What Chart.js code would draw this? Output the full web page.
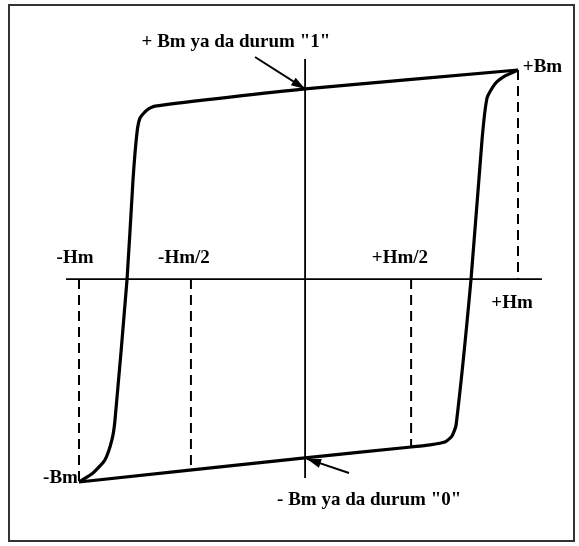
<!DOCTYPE html>
<html>
<head>
<meta charset="utf-8">
<script src="https://cdn.jsdelivr.net/npm/chart.js@4/dist/chart.umd.min.js"></script>
<style>
    body { margin: 0; background: #fff; }
    #wrap { position: relative; width: 579px; height: 546px; }
    #frame { position: absolute; left: 8px; top: 4px; width: 563px; height: 534px; border: 2px solid #333; pointer-events: none; }
</style>
</head>
<body>
<div id="wrap">
    <canvas id="loop" width="579" height="546"></canvas>
    <div id="frame"></div>
</div>
<script>
// histerezis egrisi, H = -Hm..+Hm, B = -Bm..+Bm (normalize)
const descH = [1.0, 0.03, -0.654, -0.69, -0.722, -0.736, -0.754, -0.781, -0.836, -0.85, -0.882, -0.936, -1.0];
const descB = [1.0, 0.908, 0.825, 0.806, 0.767, 0.694, 0.466, -0.015, -0.699, -0.796, -0.893, -0.956, -1.0];
const ascH = [-1.0, 0.03, 0.513, 0.599, 0.667, 0.699, 0.718, 0.786, 0.836, 0.859, 0.895, 0.941, 1.0];
const ascB = [-1.0, -0.883, -0.830, -0.820, -0.806, -0.777, -0.723, -0.015, 0.660, 0.864, 0.932, 0.971, 1.0];

// eksenler
const axisH = [-1.059, 1.109];
const axisB = [1.053, -0.981];
const axisLevel = -0.015;
const axisCenter = 0.03;

// kesikli cizgiler: -Hm, -Hm/2, +Hm/2, +Hm
const dropH = [-1.0, -0.49, 0.513, 1.0];
const dropFrom = [-0.015, -0.015, -0.015, 1.0];
const dropTo = [-1.0, -0.942, -0.83, -0.015];

// oklar
const arrowTailH = [-0.198, 0.23];
const arrowTailB = [1.063, -0.956];
const arrowHeadH = [0.03, 0.039];
const arrowHeadB = [0.908, -0.888];

// etiketler
const labelText = ['+ Bm ya da durum "1"', '+Bm', '-Hm', '-Hm/2', '+Hm/2', '+Hm', '-Bm', '- Bm ya da durum "0"'];
const labelH = [-0.285, 1.022, -1.018, -0.522, 0.462, 0.973, -1.005, 0.322];
const labelB = [1.136, 1.015, 0.087, 0.087, 0.087, -0.131, -0.981, -1.087];
const labelAlign = ['center', 'left', 'center', 'center', 'center', 'center', 'right', 'center'];

function pts(xs, ys) {
    return xs.map((x, i) => ({ x: x, y: ys[i] }));
}

const datasets = [];

// ana egri
datasets.push({ data: pts(descH, descB), borderColor: '#000', borderWidth: 3.2, tension: 0.2 });
datasets.push({ data: pts(ascH, ascB), borderColor: '#000', borderWidth: 3.2, tension: 0.2 });

// eksenler
datasets.push({ data: pts(axisH, [axisLevel, axisLevel]), borderColor: '#000', borderWidth: 1.8 });
datasets.push({ data: pts([axisCenter, axisCenter], axisB), borderColor: '#000', borderWidth: 1.8 });

dropH.forEach((h, i) => {
    datasets.push({ data: pts([h, h], [dropFrom[i], dropTo[i]]), borderColor: '#000', borderWidth: 2, borderDash: [10, 6] });
});

arrowTailH.forEach((h, i) => {
    datasets.push({ data: pts([h, arrowHeadH[i]], [arrowTailB[i], arrowHeadB[i]]), borderColor: '#000', borderWidth: 2 });
});

const extras = {
    id: 'extras',
    afterDatasetsDraw(chart) {
        const ctx = chart.ctx;
        const xs = chart.scales.x, ys = chart.scales.y;
        ctx.save();
        ctx.fillStyle = '#000';
        // ok uclari
        arrowTailH.forEach((h, i) => {
            const x0 = xs.getPixelForValue(h), y0 = ys.getPixelForValue(arrowTailB[i]);
            const x1 = xs.getPixelForValue(arrowHeadH[i]), y1 = ys.getPixelForValue(arrowHeadB[i]);
            const a = Math.atan2(y1 - y0, x1 - x0);
            ctx.beginPath();
            ctx.moveTo(x1, y1);
            ctx.lineTo(x1 - 14 * Math.cos(a) + 4.5 * Math.sin(a), y1 - 14 * Math.sin(a) - 4.5 * Math.cos(a));
            ctx.lineTo(x1 - 14 * Math.cos(a) - 4.5 * Math.sin(a), y1 - 14 * Math.sin(a) + 4.5 * Math.cos(a));
            ctx.closePath();
            ctx.fill();
        });
        // yazilar
        ctx.font = 'bold 19px "Liberation Serif", "Times New Roman", serif';
        ctx.textBaseline = 'middle';
        labelText.forEach((t, i) => {
            ctx.textAlign = labelAlign[i];
            ctx.fillText(t, xs.getPixelForValue(labelH[i]), ys.getPixelForValue(labelB[i]));
        });
        ctx.restore();
    }
};

new Chart(document.getElementById('loop'), {
    type: 'scatter',
    data: { datasets: datasets },
    options: {
        responsive: false,
        animation: false,
        showLine: true,
        layout: { padding: 0 },
        elements: { point: { radius: 0 } },
        scales: {
            x: { type: 'linear', display: false, min: -1.3599, max: 1.2779 },
            y: { type: 'linear', display: false, min: -1.3107, max: 1.3398 }
        },
        plugins: { legend: { display: false }, tooltip: { enabled: false } }
    },
    plugins: [extras]
});
</script>
</body>
</html>
